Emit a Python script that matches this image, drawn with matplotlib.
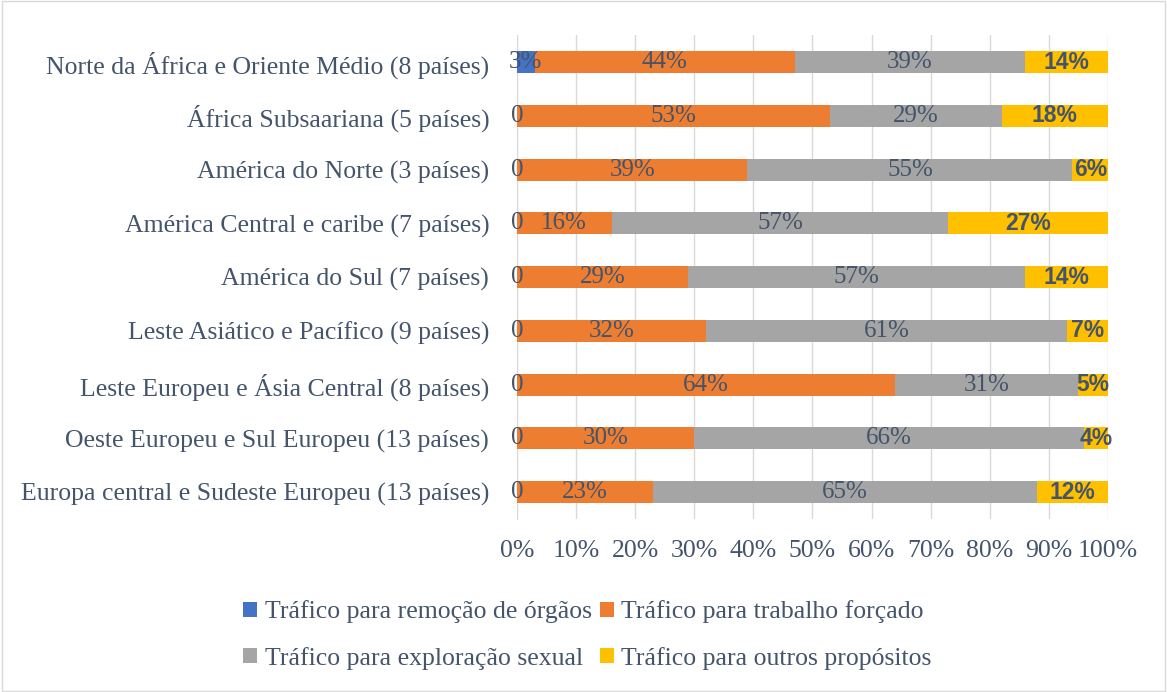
import numpy as np
import matplotlib
matplotlib.use("Agg")
import matplotlib.pyplot as plt
from matplotlib.patches import Rectangle

regioes = ["Norte da África e Oriente Médio (8 países)",
           "África Subsaariana (5 países)",
           "América do Norte (3 países)",
           "América Central e caribe (7 países)",
           "América do Sul (7 países)",
           "Leste Asiático e Pacífico (9 países)",
           "Leste Europeu e Ásia Central (8 países)",
           "Oeste Europeu e Sul Europeu (13 países)",
           "Europa central e Sudeste Europeu (13 países)"]

orgaos = [3, 0, 0, 0, 0, 0, 0, 0, 0]
trabalho = [44, 53, 39, 16, 29, 32, 64, 30, 23]
sexual = [39, 29, 55, 57, 57, 61, 31, 66, 65]
outros = [14, 18, 6, 27, 14, 7, 5, 4, 12]

series = ["Tráfico para remoção de órgãos", "Tráfico para trabalho forçado",
          "Tráfico para exploração sexual", "Tráfico para outros propósitos"]
cores = ["#4472C4", "#ED7D31", "#A5A5A5", "#FFC000"]
texto = "#44546A"
serif = "Liberation Serif"

fig = plt.figure(figsize=(11.67, 6.92), dpi=100)
ax = fig.add_axes([0.443, 0.25, 0.5064, 0.699])

y = np.arange(len(regioes))[::-1]
dados = [orgaos, trabalho, sexual, outros]
left = np.zeros(len(regioes))
handles = []
for k, vals in enumerate(dados):
    vals = np.array(vals, dtype=float)
    h = ax.barh(y, vals, left=left, height=0.41, color=cores[k], label=series[k], zorder=3)
    handles.append(h)
    for yi, l, v in zip(y, left, vals):
        cx = l + v / 2
        if k == 0:
            s = "0" if v == 0 else "%d%%" % v
            ax.text(cx, yi, s, ha="center", va="center", fontsize=18,
                    family=serif, color=texto, zorder=4)
        elif k == 3:
            ax.text(cx, yi, "%d%%" % v, ha="center", va="center", fontsize=16.5,
                    family="Liberation Sans", weight="bold", color=texto, zorder=4)
        else:
            ax.text(cx, yi, "%d%%" % v, ha="center", va="center", fontsize=18,
                    family=serif, color=texto, zorder=4)
    left += vals

ax.set_xlim(0, 100)
ax.set_ylim(-0.5, len(regioes) - 0.5)
ax.set_xticks(np.arange(0, 101, 10))
ax.set_xticklabels(["%d%%" % t for t in range(0, 101, 10)])
ax.set_yticks(y)
ax.set_yticklabels(regioes)
for lab in ax.get_xticklabels() + ax.get_yticklabels():
    lab.set_family(serif)
    lab.set_fontsize(18.5)
    lab.set_color(texto)
ax.tick_params(axis="x", length=0, pad=15)
ax.tick_params(axis="y", length=0, pad=20)
ax.grid(axis="x", color="#D9D9D9", linewidth=1, zorder=0)
for s in ["top", "right", "bottom"]:
    ax.spines[s].set_visible(False)
ax.spines["left"].set_color("#D9D9D9")

# ordem para que a legenda fique em linhas: orgaos/trabalho, sexual/outros
ordem = [0, 2, 1, 3]
fig.legend([handles[i] for i in ordem], [series[i] for i in ordem],
           loc="center", bbox_to_anchor=(0.5034, 0.0824), ncol=2, frameon=False,
           prop={"family": serif, "size": 18.5}, labelcolor=texto,
           handlelength=0.55, handleheight=0.55, handletextpad=0.3,
           columnspacing=0.3, labelspacing=0.9)

fig.patches.append(Rectangle((0.002, 0.002), 0.996, 0.996, transform=fig.transFigure,
                             fill=False, edgecolor="#D9D9D9", linewidth=1))

fig.savefig("out.png", dpi=100)
